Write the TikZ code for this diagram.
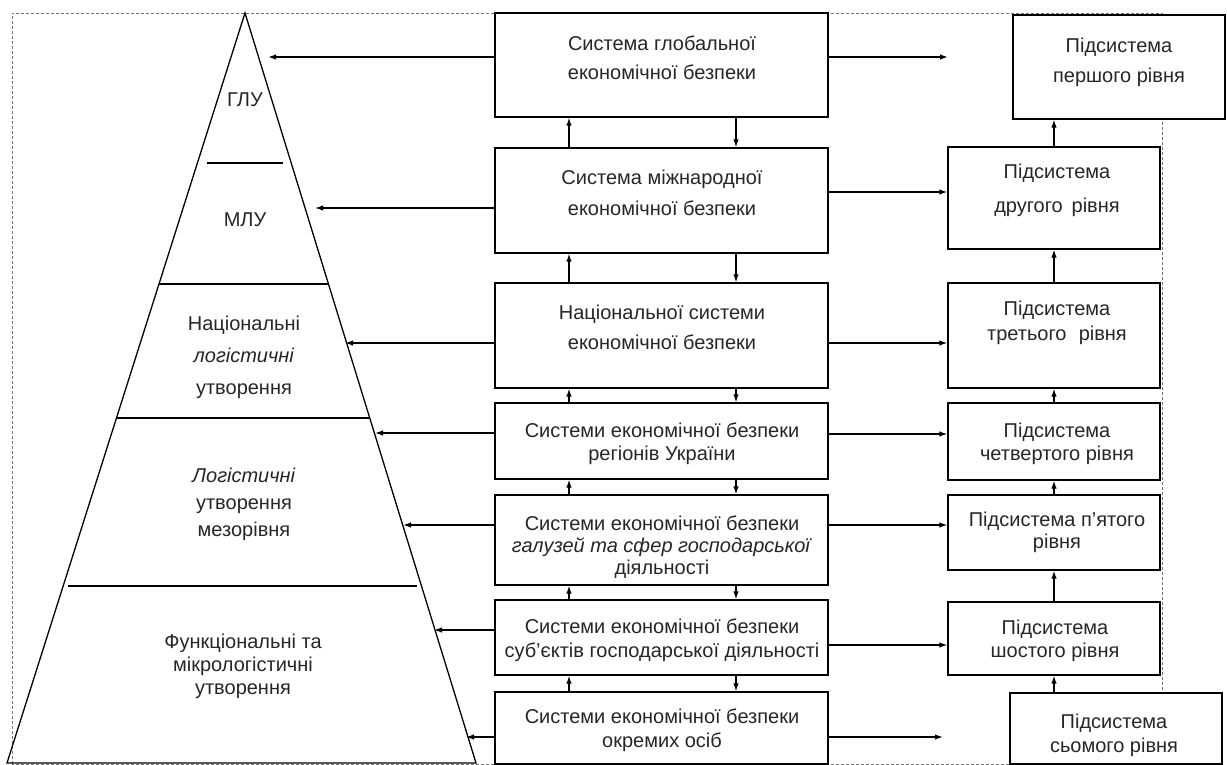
\documentclass[tikz,border=0pt]{standalone}
\usepackage{fontspec}
\setmainfont{Liberation Sans}
\usetikzlibrary{arrows.meta}
\newcommand\mkbox[5]{\node[box, minimum width={(#4-#2)*1pt}, minimum height={(#5-#3)*1pt}] (#1) at ({(#2+#4)/2},{(#3+#5)/2}) {};}
\begin{document}
\begin{tikzpicture}[x=1pt,y=-1pt,
  box/.style={draw, line width=1.3pt, fill=white, inner sep=0pt},
  txt/.style={align=center, inner sep=0pt, font=\fontsize{20}{#1}\selectfont, text=black!85},
  arr/.style={line width=1.3pt, -{Latex[length=8pt,width=5.5pt]}},
  brd/.style={draw=black!55, line width=0.9pt, dash pattern=on 3pt off 2pt},
  pyr/.style={line width=1.3pt}]
\useasboundingbox (0,0) rectangle (1227,765);
% dashed frame
\draw[brd] (12,764) -- (12,13) -- (1162,13) -- (1162,764) -- cycle;
% pyramid
\draw[pyr, line join=miter] (245,13) -- (7,763) -- (476,763) -- cycle;
\draw[pyr] (207,163) -- (283,163);
\draw[pyr] (159,284) -- (328,284);
\draw[pyr] (117,418) -- (370,418);
\draw[pyr] (68,586) -- (417,586);
\node[txt=24] (p1) at (245,100) {ГЛУ};
\node[txt=24] (p2) at (245,220) {МЛУ};
\node[txt=32] (p3) at (244,357) {Національні\\\textit{логістичні}\\утворення};
\node[txt=27] (p4) at (244,504) {\textit{Логістичні}\\утворення\\мезорівня};
\node[txt=23] (p5) at (243,666) {Функціональні та\\мікрологістичні\\утворення};
% middle boxes
\mkbox{m1}{495}{13}{828}{117}
\mkbox{m2}{495}{148}{828}{253}
\mkbox{m3}{495}{283}{828}{388}
\mkbox{m4}{495}{403}{828}{479}
\mkbox{m5}{495}{495}{828}{585}
\mkbox{m6}{495}{600}{828}{675}
\mkbox{m7}{495}{692}{828}{764}
\node[txt=29] (tm1) at (662,58) {Система глобальної\\економічної безпеки};
\node[txt=31] (tm2) at (662,193) {Система міжнародної\\економічної безпеки};
\node[txt=30] (tm3) at (662,327) {Національної системи\\економічної безпеки};
\node[txt=23] (tm4) at (662,444) {Системи економічної безпеки\\регіонів України};
\node[txt=22] (tm5) at (662,547) {Системи економічної безпеки\\\textit{галузей та сфер господарської}\\діяльності};
\node[txt=24] (tm6) at (662,640) {Системи економічної безпеки\\суб’єктів господарської діяльності};
\node[txt=24] (tm7) at (662,730) {Системи економічної безпеки\\окремих осіб};
% right boxes
\mkbox{r1}{1013}{15}{1225}{119}
\mkbox{r2}{948}{147}{1160}{249}
\mkbox{r3}{948}{283}{1160}{388}
\mkbox{r4}{948}{403}{1160}{480}
\mkbox{r5}{948}{495}{1160}{570}
\mkbox{r6}{948}{602}{1160}{675}
\mkbox{r7}{1010}{693}{1222}{764}
\node[txt=30] (tr1) at (1119,62) {Підсистема\\першого рівня};
\node[txt=34] (tr2) at (1057,190) {Підсистема\\другого\, рівня};
\node[txt=25] (tr3) at (1057,323) {Підсистема\\третього\,\, рівня};
\node[txt=23] (tr4) at (1057,444) {Підсистема\\четвертого рівня};
\node[txt=22] (tr5) at (1057,532) {Підсистема п’ятого\\рівня};
\node[txt=23] (tr6) at (1055,641) {Підсистема\\шостого рівня};
\node[txt=24] (tr7) at (1114,735) {Підсистема\\сьомого рівня};
% vertical arrows, middle column
\foreach \a/\b in {m1/m2,m2/m3,m3/m4,m4/m5,m5/m6,m6/m7}{
  \draw[arr] (569,0 |- \b.north) -- (569,0 |- \a.south);
  \draw[arr] (736,0 |- \a.south) -- (736,0 |- \b.north);
}
% vertical arrows, right column
\foreach \a/\b in {r1/r2,r2/r3,r3/r4,r4/r5,r5/r6,r6/r7}{
  \draw[arr] (1054,0 |- \b.north) -- (1054,0 |- \a.south);
}
% left arrows to pyramid
\coordinate (e1) at (268,57);
\coordinate (e2) at (315,208);
\coordinate (e3) at (345,343);
\coordinate (e4) at (375,433);
\coordinate (e5) at (403,525);
\coordinate (e6) at (434,630);
\coordinate (e7) at (466,737);
\draw[arr] (m1.west |- e1) -- (e1);
\draw[arr] (m2.west |- e2) -- (e2);
\draw[arr] (m3.west |- e3) -- (e3);
\draw[arr] (m4.west |- e4) -- (e4);
\draw[arr] (m5.west |- e5) -- (e5);
\draw[arr] (m6.west |- e6) -- (e6);
\draw[arr] (m7.west |- e7) -- (e7);
% right arrows
\coordinate (f1) at (948,57);
\coordinate (f7) at (943,737);
\draw[arr] (m1.east |- f1) -- (f1);
\draw[arr] (m2.east |- 0,192) -- (r2.west |- 0,192);
\draw[arr] (m3.east |- 0,343) -- (r3.west |- 0,343);
\draw[arr] (m4.east |- 0,434) -- (r4.west |- 0,434);
\draw[arr] (m5.east |- 0,525) -- (r5.west |- 0,525);
\draw[arr] (m6.east |- 0,645) -- (r6.west |- 0,645);
\draw[arr] (m7.east |- f7) -- (f7);
\end{tikzpicture}
\end{document}
